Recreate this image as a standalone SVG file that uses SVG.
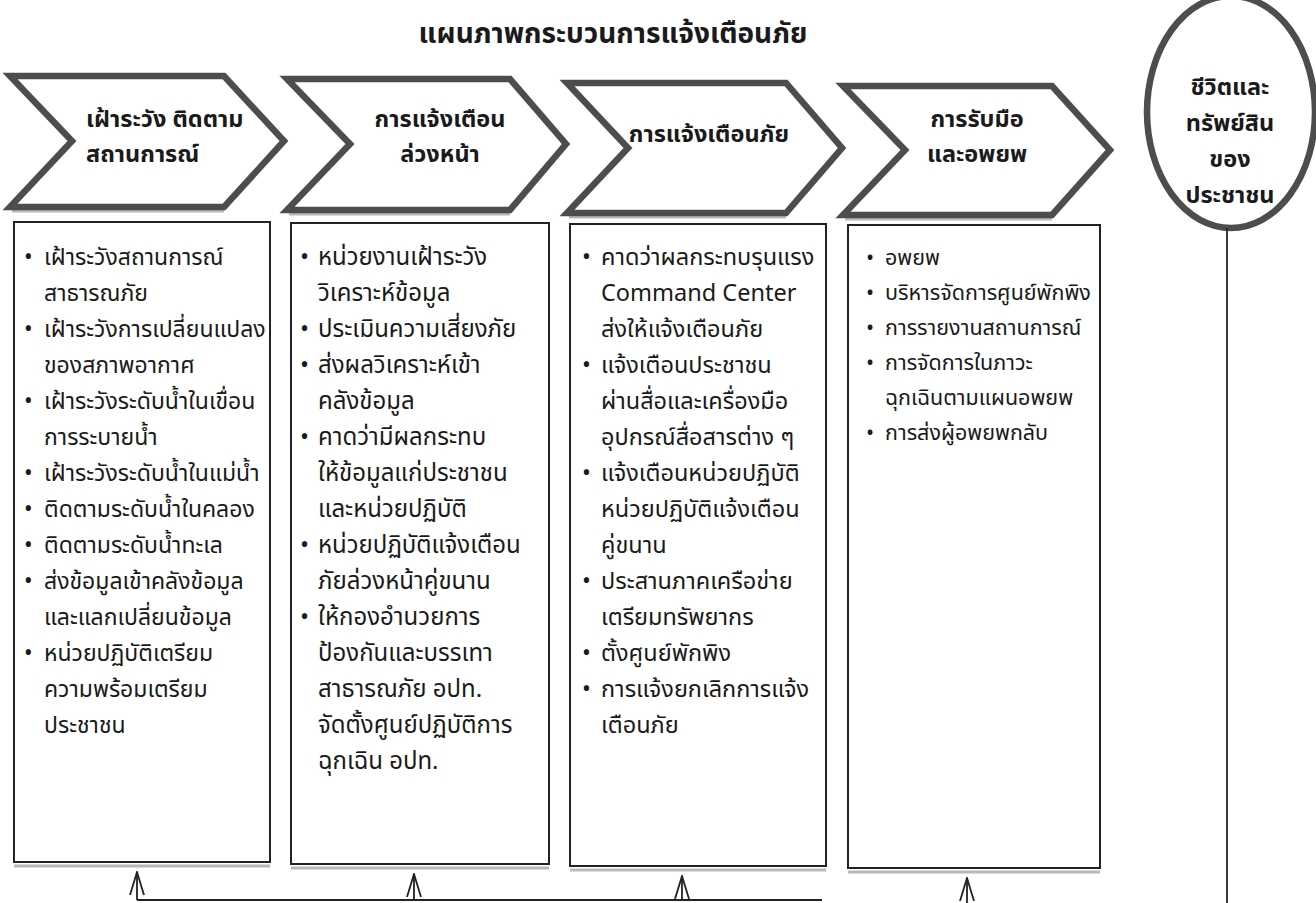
<svg xmlns="http://www.w3.org/2000/svg" width="1316" height="903" viewBox="0 0 1316 903">
<defs>
<style>
.t{font-family:'Noto Sans Thai','Noto Sans','Tahoma',sans-serif;fill:#1a1a1a}
.title{font-size:28px;font-weight:bold}
.hd{font-size:23.5px;font-weight:bold}
.l1{font-size:23px}
.l2{font-size:24px}
.l3{font-size:23.5px}
.l4{font-size:21.5px}
.chev{fill:#fff;stroke:#4d4d4d;stroke-width:6.5;stroke-linejoin:miter}
.shadow{fill:none;stroke:#b8b8b8;stroke-width:3}
.box{fill:#fff;stroke:#222;stroke-width:2}
.con{fill:none;stroke:#222;stroke-width:1.8}
</style>
<marker id="ah" viewBox="0 0 24 16" refX="23" refY="8" markerWidth="24" markerHeight="16" markerUnits="userSpaceOnUse" orient="auto">
<path d="M0,1 L23,8 L0,15" fill="none" stroke="#222" stroke-width="1.8"/>
</marker>
</defs>
<rect width="1316" height="903" fill="#fff"/>
<text class="t title" x="613" y="43" text-anchor="middle">แผนภาพกระบวนการแจ้งเตือนภัย</text>

<g id="step1">
<path class="shadow" d="M12,211 L224,211"/>
<polygon class="chev" points="10,76 224,76 284,141 224,207 10,207 72,141"/>
<text class="t hd" x="86" y="127">เฝ้าระวัง ติดตาม</text>
<text class="t hd" x="86" y="162">สถานการณ์</text>
</g>
<g id="step2">
<path class="shadow" d="M289,214 L510,214"/>
<polygon class="chev" points="287,79 510,79 566,144 510,210 287,210 350,144"/>
<text class="t hd" x="440" y="127" text-anchor="middle">การแจ้งเตือน</text>
<text class="t hd" x="440" y="162" text-anchor="middle">ล่วงหน้า</text>
</g>
<g id="step3">
<path class="shadow" d="M569,217 L786,217"/>
<polygon class="chev" points="567,83 786,83 842,148 786,213 567,213 628,148"/>
<text class="t hd" x="709" y="142" text-anchor="middle">การแจ้งเตือนภัย</text>
</g>
<g id="step4">
<path class="shadow" d="M845,219 L1052,219"/>
<polygon class="chev" points="843,86 1052,86 1110,150 1052,215 843,215 905,150"/>
<text class="t hd" x="977" y="127" text-anchor="middle">การรับมือ</text>
<text class="t hd" x="977" y="162" text-anchor="middle">และอพยพ</text>
</g>
<g id="people">
<ellipse cx="1231" cy="112" rx="84" ry="116" fill="#fff" stroke="#4d4d4d" stroke-width="6.5"/>
<text class="t hd" x="1230" y="95" text-anchor="middle">ชีวิตและ</text>
<text class="t hd" x="1230" y="131" text-anchor="middle">ทรัพย์สิน</text>
<text class="t hd" x="1230" y="167" text-anchor="middle">ของ</text>
<text class="t hd" x="1230" y="203" text-anchor="middle">ประชาชน</text>
</g>

<g id="box1">
<rect class="box" x="14" y="222" width="256" height="640"/>
<path class="shadow" d="M14,866 L270,866"/>
<g class="t l1">
<text x="24" y="265">•</text><text x="44" y="265">เฝ้าระวังสถานการณ์</text>
<text x="44" y="301">สาธารณภัย</text>
<text x="24" y="337">•</text><text x="44" y="337">เฝ้าระวังการเปลี่ยนแปลง</text>
<text x="44" y="373">ของสภาพอากาศ</text>
<text x="24" y="409">•</text><text x="44" y="409">เฝ้าระวังระดับน้ำในเขื่อน</text>
<text x="44" y="445">การระบายน้ำ</text>
<text x="24" y="481">•</text><text x="44" y="481">เฝ้าระวังระดับน้ำในแม่น้ำ</text>
<text x="24" y="517">•</text><text x="44" y="517">ติดตามระดับน้ำในคลอง</text>
<text x="24" y="553">•</text><text x="44" y="553">ติดตามระดับน้ำทะเล</text>
<text x="24" y="589">•</text><text x="44" y="589">ส่งข้อมูลเข้าคลังข้อมูล</text>
<text x="44" y="625">และแลกเปลี่ยนข้อมูล</text>
<text x="24" y="661">•</text><text x="44" y="661">หน่วยปฏิบัติเตรียม</text>
<text x="44" y="697">ความพร้อมเตรียม</text>
<text x="44" y="733">ประชาชน</text>
</g>
</g>

<g id="box2">
<rect class="box" x="291" y="223" width="258" height="641"/>
<path class="shadow" d="M291,868 L549,868"/>
<g class="t l2">
<text x="300" y="265">•</text><text x="318" y="265">หน่วยงานเฝ้าระวัง</text>
<text x="318" y="301">วิเคราะห์ข้อมูล</text>
<text x="300" y="337">•</text><text x="318" y="337">ประเมินความเสี่ยงภัย</text>
<text x="300" y="373">•</text><text x="318" y="373">ส่งผลวิเคราะห์เข้า</text>
<text x="318" y="409">คลังข้อมูล</text>
<text x="300" y="445">•</text><text x="318" y="445">คาดว่ามีผลกระทบ</text>
<text x="318" y="481">ให้ข้อมูลแก่ประชาชน</text>
<text x="318" y="517">และหน่วยปฏิบัติ</text>
<text x="300" y="553">•</text><text x="318" y="553">หน่วยปฏิบัติแจ้งเตือน</text>
<text x="318" y="589">ภัยล่วงหน้าคู่ขนาน</text>
<text x="300" y="625">•</text><text x="318" y="625">ให้กองอำนวยการ</text>
<text x="318" y="661">ป้องกันและบรรเทา</text>
<text x="318" y="697">สาธารณภัย อปท.</text>
<text x="318" y="733">จัดตั้งศูนย์ปฏิบัติการ</text>
<text x="318" y="769">ฉุกเฉิน อปท.</text>
</g>
</g>

<g id="box3">
<rect class="box" x="570" y="224" width="256" height="642"/>
<path class="shadow" d="M570,870 L826,870"/>
<g class="t l3">
<text x="582" y="265">•</text><text x="601" y="265">คาดว่าผลกระทบรุนแรง</text>
<text x="601" y="301">Command Center</text>
<text x="601" y="337">ส่งให้แจ้งเตือนภัย</text>
<text x="582" y="373">•</text><text x="601" y="373">แจ้งเตือนประชาชน</text>
<text x="601" y="409">ผ่านสื่อและเครื่องมือ</text>
<text x="601" y="445">อุปกรณ์สื่อสารต่าง ๆ</text>
<text x="582" y="481">•</text><text x="601" y="481">แจ้งเตือนหน่วยปฏิบัติ</text>
<text x="601" y="517">หน่วยปฏิบัติแจ้งเตือน</text>
<text x="601" y="553">คู่ขนาน</text>
<text x="582" y="589">•</text><text x="601" y="589">ประสานภาคเครือข่าย</text>
<text x="601" y="625">เตรียมทรัพยากร</text>
<text x="582" y="661">•</text><text x="601" y="661">ตั้งศูนย์พักพิง</text>
<text x="582" y="697">•</text><text x="601" y="697">การแจ้งยกเลิกการแจ้ง</text>
<text x="601" y="733">เตือนภัย</text>
</g>
</g>

<g id="box4">
<rect class="box" x="848" y="225" width="252" height="643"/>
<path class="shadow" d="M848,872 L1100,872"/>
<g class="t l4">
<text x="866" y="265">•</text><text x="885" y="265">อพยพ</text>
<text x="866" y="300">•</text><text x="885" y="300">บริหารจัดการศูนย์พักพิง</text>
<text x="866" y="335">•</text><text x="885" y="335">การรายงานสถานการณ์</text>
<text x="866" y="370">•</text><text x="885" y="370">การจัดการในภาวะ</text>
<text x="885" y="405">ฉุกเฉินตามแผนอพยพ</text>
<text x="866" y="440">•</text><text x="885" y="440">การส่งผู้อพยพกลับ</text>
</g>
</g>

<g id="connectors">
<path class="con" d="M137,900 L137,872" marker-end="url(#ah)"/>
<path class="con" d="M414,900 L414,874" marker-end="url(#ah)"/>
<path class="con" d="M682,900 L682,876" marker-end="url(#ah)"/>
<path class="con" d="M967,903 L967,878" marker-end="url(#ah)"/>
<path class="con" d="M137,900 L822,900"/>
<path class="con" d="M1227,228 L1227,903"/>
</g>
</svg>
